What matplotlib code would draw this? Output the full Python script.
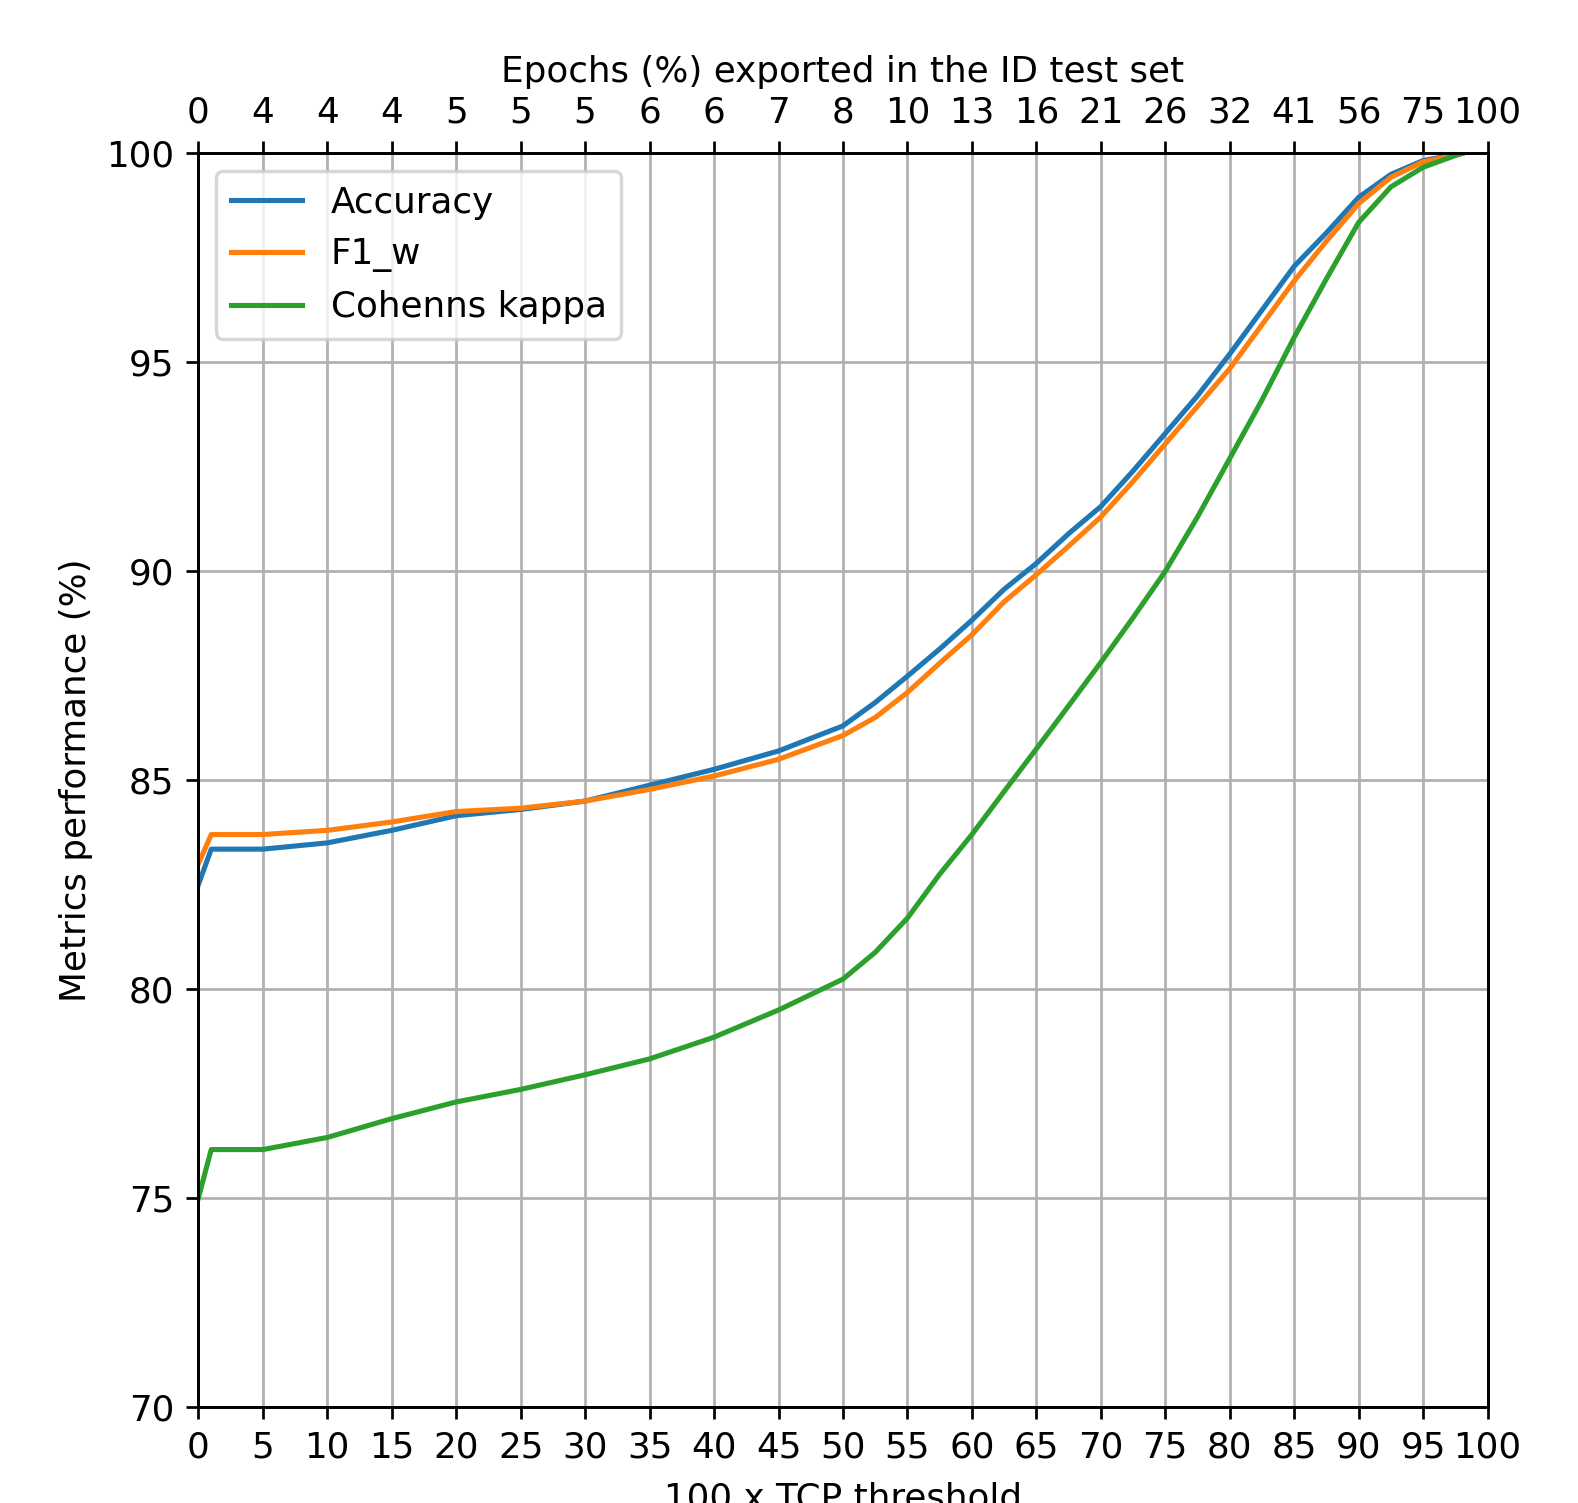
import matplotlib
matplotlib.use("Agg")
import matplotlib.pyplot as plt

# ==========================================
# data
# ==========================================
threshold = [0, 1, 5, 10, 15, 20, 25, 30, 35, 40, 45, 50, 52.5, 55, 57.5, 60, 62.5, 65, 67.5,
             70, 72.5, 75, 77.5, 80, 82.5, 85, 87.5, 90, 92.5, 95, 97.5, 98]

accuracy = [82.5, 83.35, 83.35, 83.5, 83.8, 84.15, 84.3, 84.5, 84.88, 85.26, 85.7, 86.3, 86.86,
            87.49, 88.14, 88.83, 89.57, 90.19, 90.9, 91.55, 92.4, 93.3, 94.2, 95.2, 96.25,
            97.3, 98.1, 98.95, 99.5, 99.83, 99.97, 100.0]
f1_w = [83.0, 83.7, 83.7, 83.8, 84.0, 84.25, 84.33, 84.5, 84.78, 85.1, 85.5, 86.07, 86.5,
        87.1, 87.8, 88.48, 89.27, 89.92, 90.6, 91.3, 92.15, 93.05, 93.95, 94.85, 95.9,
        96.95, 97.9, 98.8, 99.43, 99.8, 99.96, 100.0]
cohens_kappa = [75.0, 76.16, 76.16, 76.45, 76.9, 77.3, 77.6, 77.95, 78.33, 78.85, 79.5, 80.24,
                80.88, 81.7, 82.75, 83.7, 84.73, 85.75, 86.78, 87.82, 88.89, 90.0, 91.3,
                92.7, 94.1, 95.6, 97.0, 98.35, 99.2, 99.67, 99.95, 100.0]

bottom_ticks = list(range(0, 101, 5))
epochs_labels = ["0", "4", "4", "4", "5", "5", "5", "6", "6", "7", "8", "10",
                 "13", "16", "21", "26", "32", "41", "56", "75", "100"]

plt.rcParams['font.size'] = 10.5

DPI = 245
fig = plt.figure(figsize=(1578 / DPI, 1503 / DPI), dpi=DPI)
ax = fig.add_axes([0.1257, 0.0639, 0.817, 0.834])

ax.plot(threshold, accuracy, label="Accuracy")
ax.plot(threshold, f1_w, label="F1_w")
ax.plot(threshold, cohens_kappa, label="Cohenns kappa")

ax.set_xlim(0, 100)
ax.set_ylim(70, 100)
ax.set_xticks(bottom_ticks)
ax.set_xticklabels([str(t) for t in bottom_ticks])
ax.set_xlabel("100 x TCP threshold", labelpad=5)
ax.set_ylabel("Metrics performance (%)")
ax.grid(True)
ax.legend(loc="upper left")

# top axis : epochs exported
ax2 = ax.twiny()
ax2.set_xlim(ax.get_xlim())
ax2.set_xticks(bottom_ticks)
ax2.set_xticklabels(epochs_labels)
ax2.set_xlabel("Epochs (%) exported in the ID test set")

fig.savefig("out.png", dpi=DPI)
